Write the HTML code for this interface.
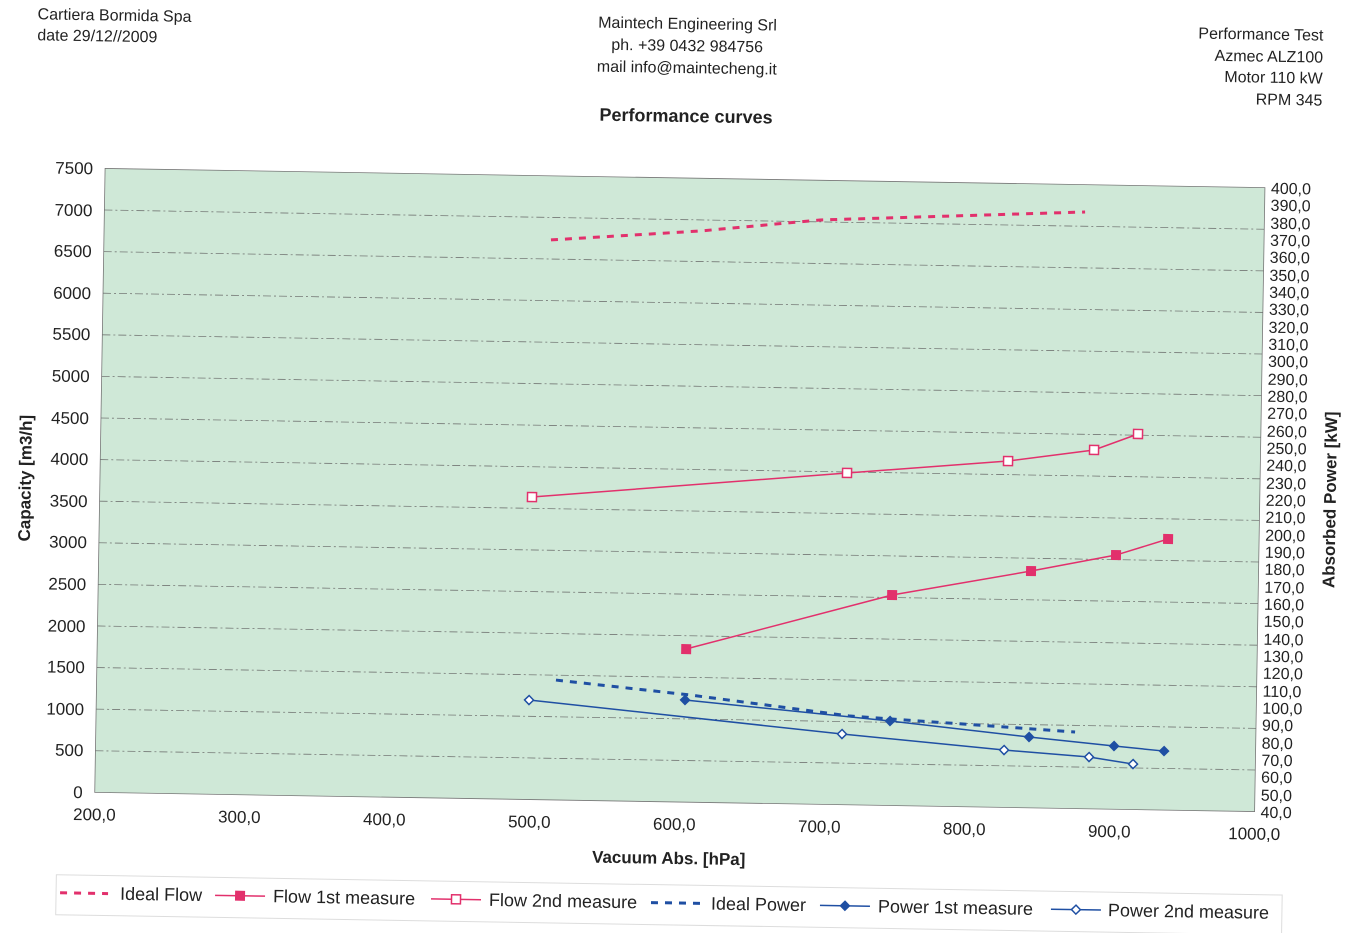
<!DOCTYPE html>
<html><head><meta charset="utf-8"><style>
html,body{margin:0;padding:0;background:#fff;}
svg{display:block;font-family:"Liberation Sans",sans-serif;}
</style></head><body>
<svg width="1366" height="933" viewBox="0 0 1366 933" xmlns="http://www.w3.org/2000/svg">
<g transform="rotate(0.95 680 480)">
<!-- header -->
<g font-size="16" fill="#222">
<text x="30" y="30">Cartiera Bormida Spa</text>
<text x="30" y="51">date  29/12//2009</text>
<text x="680" y="29" text-anchor="middle">Maintech Engineering Srl</text>
<text x="680" y="51" text-anchor="middle">ph. +39 0432 984756</text>
<text x="680" y="73" text-anchor="middle">mail info@maintecheng.it</text>
<text x="1316" y="30" text-anchor="end">Performance Test</text>
<text x="1316" y="52" text-anchor="end">Azmec ALZ100</text>
<text x="1316" y="73" text-anchor="end">Motor 110 kW</text>
<text x="1316" y="95" text-anchor="end">RPM 345</text>
</g>
<text x="680" y="122" text-anchor="middle" font-size="18" font-weight="bold" fill="#222">Performance curves</text>
<!-- plot -->
<rect x="100" y="178" width="1160" height="624" fill="#cfe8d7" stroke="#777" stroke-width="0.8"/>
<g stroke="#666" stroke-width="0.8" stroke-dasharray="8 3 2 3" opacity="0.85">
<line x1="100" y1="760.4" x2="1260" y2="760.4"/><line x1="100" y1="718.8" x2="1260" y2="718.8"/>
<line x1="100" y1="677.2" x2="1260" y2="677.2"/><line x1="100" y1="635.6" x2="1260" y2="635.6"/>
<line x1="100" y1="594" x2="1260" y2="594"/><line x1="100" y1="552.4" x2="1260" y2="552.4"/>
<line x1="100" y1="510.8" x2="1260" y2="510.8"/><line x1="100" y1="469.2" x2="1260" y2="469.2"/>
<line x1="100" y1="427.6" x2="1260" y2="427.6"/><line x1="100" y1="386" x2="1260" y2="386"/>
<line x1="100" y1="344.4" x2="1260" y2="344.4"/><line x1="100" y1="302.8" x2="1260" y2="302.8"/>
<line x1="100" y1="261.2" x2="1260" y2="261.2"/><line x1="100" y1="219.6" x2="1260" y2="219.6"/>
</g>
<!-- left labels -->
<g font-size="17" fill="#222" text-anchor="end">
<text x="88" y="808">0</text><text x="88" y="766">500</text><text x="88" y="725">1000</text>
<text x="88" y="683">1500</text><text x="88" y="642">2000</text><text x="88" y="600">2500</text>
<text x="88" y="558">3000</text><text x="88" y="517">3500</text><text x="88" y="475">4000</text>
<text x="88" y="434">4500</text><text x="88" y="392">5000</text><text x="88" y="350">5500</text>
<text x="88" y="309">6000</text><text x="88" y="267">6500</text><text x="88" y="226">7000</text>
<text x="88" y="184">7500</text>
</g>
<!-- right labels -->
<g font-size="16" fill="#222">
<text x="1266" y="808">40,0</text><text x="1266" y="791">50,0</text><text x="1266" y="773">60,0</text>
<text x="1266" y="756">70,0</text><text x="1266" y="739">80,0</text><text x="1266" y="721">90,0</text>
<text x="1266" y="704">100,0</text><text x="1266" y="687">110,0</text><text x="1266" y="669">120,0</text>
<text x="1266" y="652">130,0</text><text x="1266" y="635">140,0</text><text x="1266" y="617">150,0</text>
<text x="1266" y="600">160,0</text><text x="1266" y="583">170,0</text><text x="1266" y="565">180,0</text>
<text x="1266" y="548">190,0</text><text x="1266" y="531">200,0</text><text x="1266" y="513">210,0</text>
<text x="1266" y="496">220,0</text><text x="1266" y="479">230,0</text><text x="1266" y="461">240,0</text>
<text x="1266" y="444">250,0</text><text x="1266" y="427">260,0</text><text x="1266" y="409">270,0</text>
<text x="1266" y="392">280,0</text><text x="1266" y="375">290,0</text><text x="1266" y="357">300,0</text>
<text x="1266" y="340">310,0</text><text x="1266" y="323">320,0</text><text x="1266" y="305">330,0</text>
<text x="1266" y="288">340,0</text><text x="1266" y="271">350,0</text><text x="1266" y="253">360,0</text>
<text x="1266" y="236">370,0</text><text x="1266" y="219">380,0</text><text x="1266" y="201">390,0</text>
<text x="1266" y="184">400,0</text>
</g>
<!-- bottom labels -->
<g font-size="17" fill="#222" text-anchor="middle">
<text x="100" y="830">200,0</text><text x="245" y="830">300,0</text><text x="390" y="830">400,0</text>
<text x="535" y="830">500,0</text><text x="680" y="830">600,0</text><text x="825" y="830">700,0</text>
<text x="970" y="830">800,0</text><text x="1115" y="830">900,0</text><text x="1260" y="830">1000,0</text>
</g>
<text x="675" y="864" text-anchor="middle" font-size="17" font-weight="bold" fill="#222">Vacuum Abs. [hPa]</text>
<text transform="translate(31 489) rotate(-90)" text-anchor="middle" font-size="17" font-weight="bold" fill="#222">Capacity  [m3/h]</text>
<text transform="translate(1336 489) rotate(-90)" text-anchor="middle" font-size="17" font-weight="bold" fill="#222">Absorbed Power [kW]</text>
<!-- series -->
<polyline points="547,242.1 695.9,230.7 815.7,217.7 1080.6,205.3" fill="none" stroke="#e2306c" stroke-width="3" stroke-dasharray="7 7"/>
<polyline points="559.3,682.1 693.6,694.8 853.9,713.2 1079.2,725.4" fill="none" stroke="#1f4fa3" stroke-width="3" stroke-dasharray="7 7"/>
<polyline points="532.3,499.5 846.9,470.2 1007.7,455.6 1093.5,443.1 1137.2,426.4" fill="none" stroke="#e2306c" stroke-width="1.5"/>
<g fill="#fff" stroke="#e2306c" stroke-width="1.5">
<rect x="527.8" y="495" width="9" height="9"/><rect x="842.4" y="465.7" width="9" height="9"/>
<rect x="1003.2" y="451.1" width="9" height="9"/><rect x="1089" y="438.6" width="9" height="9"/>
<rect x="1132.7" y="421.9" width="9" height="9"/></g>
<polyline points="688.8,648.9 893.9,591.5 1032.5,565.2 1117.2,547.8 1169,530.9" fill="none" stroke="#e2306c" stroke-width="1.5"/>
<g fill="#e2306c">
<rect x="684" y="644" width="10" height="10"/><rect x="889" y="586.5" width="10" height="10"/>
<rect x="1027.5" y="560.2" width="10" height="10"/><rect x="1112.2" y="542.8" width="10" height="10"/>
<rect x="1164" y="525.9" width="10" height="10"/></g>
<polyline points="688.7,699.9 894,717.5 1033.3,731.2 1118.4,738.8 1168.5,743" fill="none" stroke="#1f4fa3" stroke-width="1.5"/>
<g fill="#1f4fa3">
<path d="M688.7 694.4l5.5 5.5-5.5 5.5-5.5-5.5z"/><path d="M894 712l5.5 5.5-5.5 5.5-5.5-5.5z"/>
<path d="M1033.3 725.7l5.5 5.5-5.5 5.5-5.5-5.5z"/><path d="M1118.4 733.3l5.5 5.5-5.5 5.5-5.5-5.5z"/>
<path d="M1168.5 737.5l5.5 5.5-5.5 5.5-5.5-5.5z"/></g>
<polyline points="532.7,702.5 846.2,731.3 1008.5,744.6 1093.6,750.2 1137.7,756.5" fill="none" stroke="#1f4fa3" stroke-width="1.5"/>
<g fill="#fff" stroke="#1f4fa3" stroke-width="1.5">
<path d="M532.7 698l4.5 4.5-4.5 4.5-4.5-4.5z"/><path d="M846.2 726.8l4.5 4.5-4.5 4.5-4.5-4.5z"/>
<path d="M1008.5 740.1l4.5 4.5-4.5 4.5-4.5-4.5z"/><path d="M1093.6 745.7l4.5 4.5-4.5 4.5-4.5-4.5z"/>
<path d="M1137.7 752l4.5 4.5-4.5 4.5-4.5-4.5z"/></g>
<!-- legend -->
<rect x="63" y="885" width="1226" height="40" fill="#fff" stroke="#ddd" stroke-width="1"/>
<g font-size="18" fill="#222">
<line x1="67" y1="903" x2="115" y2="903" stroke="#e2306c" stroke-width="3" stroke-dasharray="7 7"/>
<text x="127" y="909">Ideal Flow</text>
<line x1="222" y1="903" x2="272" y2="903" stroke="#e2306c" stroke-width="1.5"/>
<rect x="242" y="898" width="10" height="10" fill="#e2306c"/>
<text x="280" y="909">Flow 1st measure</text>
<line x1="438" y1="903" x2="488" y2="903" stroke="#e2306c" stroke-width="1.5"/>
<rect x="458.5" y="898.5" width="9" height="9" fill="#fff" stroke="#e2306c" stroke-width="1.5"/>
<text x="496" y="909">Flow 2nd measure</text>
<line x1="658" y1="903" x2="708" y2="903" stroke="#1f4fa3" stroke-width="3" stroke-dasharray="7 7"/>
<text x="718" y="909">Ideal Power</text>
<line x1="827" y1="903" x2="877" y2="903" stroke="#1f4fa3" stroke-width="1.5"/>
<path d="M852 897.5l5.5 5.5-5.5 5.5-5.5-5.5z" fill="#1f4fa3"/>
<text x="885" y="909">Power 1st measure</text>
<line x1="1058" y1="903" x2="1108" y2="903" stroke="#1f4fa3" stroke-width="1.5"/>
<path d="M1083 898.5l4.5 4.5-4.5 4.5-4.5-4.5z" fill="#fff" stroke="#1f4fa3" stroke-width="1.5"/>
<text x="1115" y="909">Power 2nd measure</text>
</g>
</g>
</svg>
</body></html>
